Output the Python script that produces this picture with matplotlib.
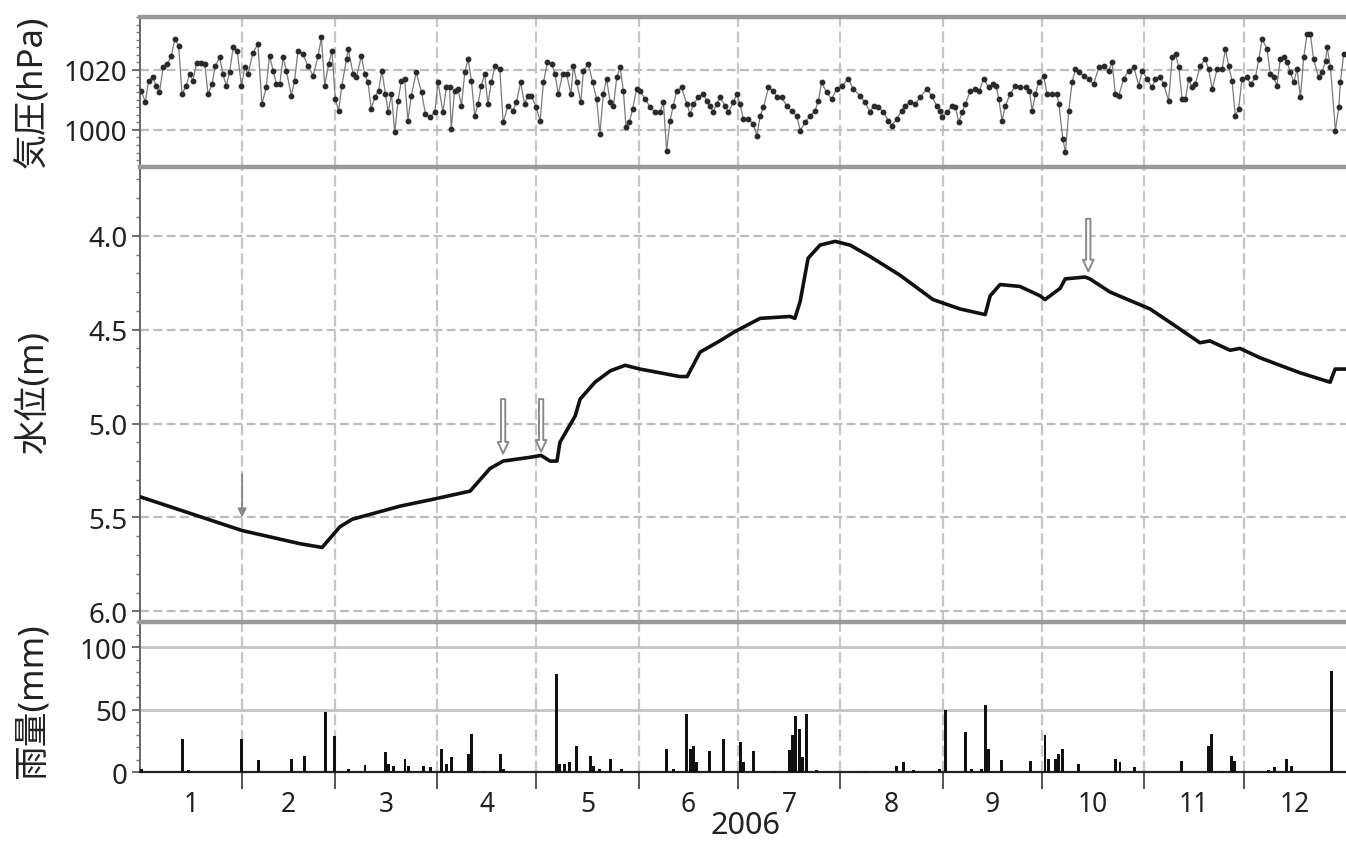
import matplotlib
matplotlib.use("Agg")
import matplotlib.pyplot as plt
from matplotlib.ticker import MultipleLocator, FixedLocator, NullFormatter

plt.rcParams['font.family'] = ['Noto Sans', 'Noto Sans CJK JP']

# ---------------------------------------------------------------- data
year_label = "2006"
month_labels = ["1", "2", "3", "4", "5", "6", "7", "8", "9", "10", "11", "12"]
month_start = [0, 31, 59, 90, 120, 151, 181, 212, 243, 273, 304, 334, 365]

# daily sea-level pressure (day of year, hPa)
pressure_day = [
    0.4, 1.6, 2.6, 3.9, 4.9, 5.9, 7.0, 8.3, 9.5, 10.5, 11.7, 12.7, 14.0, 15.0, 16.0,
    17.1, 18.6, 19.6, 20.6, 21.8, 22.8, 24.1, 25.1, 26.1, 27.1, 28.2, 29.4, 30.7,
    31.7, 32.7, 34.2, 35.7, 36.9, 38.2, 39.2, 40.3, 41.3, 42.3, 43.3, 44.3, 45.8,
    46.8, 47.8, 49.3, 50.8, 52.4, 53.9, 54.9, 55.9, 57.1, 58.1, 59.1, 60.1, 61.1,
    62.5, 63.0, 64.5, 65.5, 67.0, 68.0, 69.0, 70.0, 71.0, 72.2, 73.2, 74.3, 75.1,
    76.1, 77.1, 78.1, 79.1, 80.1, 81.1, 82.1, 83.6, 85.2, 86.4, 87.7, 89.2, 90.2,
    91.7, 92.7, 93.7, 94.2, 95.2, 96.2, 97.3, 98.3, 99.3, 100.3, 101.3, 102.3,
    103.3, 104.3, 105.3, 106.3, 107.5, 108.9, 109.9, 111.4, 112.9, 113.9, 115.2,
    116.4, 117.4, 118.4, 119.9, 121.1, 122.1, 123.3, 124.6, 125.6, 126.6, 127.9,
    129.1, 130.4, 131.2, 132.2, 133.4, 134.2, 135.7, 137.0, 138.2, 139.2, 140.2,
    141.2, 142.3, 143.3, 144.3, 145.3, 146.3, 147.1, 148.1, 149.1, 150.3, 151.3,
    152.9, 154.4, 155.9, 157.4, 158.4, 159.4, 160.4, 161.4, 162.4, 163.9, 165.5,
    166.5, 167.5, 169.0, 170.5, 171.5, 172.5, 173.5, 174.5, 175.5, 177.1, 178.1,
    179.6, 180.6, 181.6, 182.6, 184.1, 185.6, 186.7, 187.7, 188.7, 190.2, 191.7,
    192.9, 194.2, 195.7, 197.2, 198.8, 199.8, 201.3, 202.8, 204.3, 205.3, 206.3,
    207.8, 209.3, 210.9, 212.4, 214.4, 215.9, 217.9, 219.4, 221.0, 222.0, 223.5,
    225.0, 226.5, 227.5, 229.0, 230.5, 231.5, 233.1, 234.6, 236.1, 238.1, 239.6,
    241.1, 242.1, 242.7, 244.3, 245.8, 246.8, 247.8, 248.8, 249.8, 251.3, 252.8,
    254.0, 255.3, 256.9, 258.1, 259.1, 259.9, 260.9, 261.9, 263.4, 264.9, 266.4,
    268.0, 269.2, 270.0, 271.0, 272.0, 273.5, 274.5, 276.0, 277.5, 278.1, 279.3,
    280.1, 281.1, 282.1, 283.1, 284.1, 285.6, 287.1, 288.6, 290.2, 291.7, 293.2,
    294.2, 295.2, 296.2, 297.7, 299.2, 300.8, 302.3, 303.3, 304.8, 306.3, 307.3,
    308.8, 309.8, 311.3, 312.4, 313.4, 314.4, 315.4, 316.4, 317.4, 318.4, 319.4,
    320.9, 322.4, 323.4, 324.5, 326.0, 327.5, 328.5, 329.5, 330.5, 331.5, 332.5,
    333.5, 335.0, 336.1, 337.6, 338.6, 339.6, 341.1, 342.1, 343.1, 344.1, 345.1,
    346.1, 347.2, 348.2, 349.2, 350.2, 351.2, 352.2, 353.2, 354.2, 355.2, 356.7,
    357.8, 358.8, 359.3, 360.3, 361.8, 362.8, 363.3, 364.3,
]
pressure_hpa = [
    1013.0, 1009.2, 1016.4, 1017.5, 1014.7, 1012.5, 1020.8, 1021.9, 1024.6, 1030.2,
    1028.0, 1011.9, 1014.7, 1018.6, 1016.4, 1022.1, 1022.1, 1021.9, 1011.9, 1015.2,
    1021.3, 1024.1, 1018.6, 1014.7, 1019.1, 1027.4, 1026.3, 1014.7, 1020.8, 1018.6,
    1025.7, 1028.5, 1008.6, 1014.1, 1024.6, 1019.7, 1015.2, 1015.2, 1024.1, 1019.7,
    1011.4, 1016.4, 1026.3, 1025.2, 1021.3, 1018.0, 1024.6, 1030.7, 1014.7, 1021.9,
    1026.3, 1010.3, 1006.4, 1014.7, 1023.5, 1026.9, 1018.6, 1017.5, 1024.6, 1018.6,
    1015.8, 1007.0, 1010.8, 1013.0, 1019.7, 1011.9, 1005.9, 1011.9, 999.2, 1009.7,
    1016.4, 1016.9, 1003.1, 1011.4, 1019.1, 1012.5, 1005.3, 1004.2, 1005.9, 1015.8,
    1005.9, 1014.1, 1014.1, 1000.3, 1013.0, 1013.6, 1008.1, 1019.1, 1023.5, 1016.4,
    1004.7, 1008.6, 1014.7, 1018.6, 1008.6, 1015.8, 1021.3, 1020.2, 1002.5, 1008.1,
    1006.4, 1009.2, 1015.8, 1008.6, 1011.4, 1011.4, 1007.5, 1003.1, 1015.8, 1022.4,
    1021.9, 1018.6, 1011.9, 1018.6, 1018.6, 1011.9, 1021.3, 1015.8, 1009.2, 1019.7,
    1021.9, 1015.8, 1010.3, 998.7, 1011.9, 1016.9, 1009.2, 1008.1, 1017.5, 1020.8,
    1013.0, 1000.9, 1002.5, 1006.9, 1013.6, 1013.0, 1010.3, 1007.5, 1005.9, 1005.9,
    1009.2, 993.1, 1003.1, 1008.1, 1013.0, 1014.1, 1008.6, 1005.3, 1008.6, 1010.8,
    1011.9, 1009.7, 1008.1, 1005.9, 1008.6, 1010.8, 1008.1, 1005.9, 1009.2, 1011.9,
    1008.6, 1003.6, 1003.6, 1002.0, 998.1, 1004.7, 1007.5, 1014.1, 1013.0, 1010.8,
    1010.8, 1008.1, 1006.4, 1004.7, 999.8, 1002.5, 1004.7, 1006.4, 1009.7, 1015.8,
    1012.5, 1010.3, 1013.6, 1014.7, 1016.9, 1013.6, 1011.4, 1009.2, 1005.9, 1008.1,
    1007.5, 1005.9, 1003.1, 1001.4, 1003.6, 1006.4, 1008.1, 1009.2, 1008.6, 1010.8,
    1013.6, 1011.4, 1008.1, 1006.4, 1004.2, 1005.9, 1008.1, 1007.5, 1002.5, 1005.9,
    1008.6, 1013.0, 1013.6, 1013.0, 1016.9, 1014.1, 1015.2, 1014.7, 1010.3, 1003.1,
    1008.1, 1011.9, 1014.7, 1014.1, 1014.1, 1013.0, 1006.4, 1011.9, 1015.8, 1018.0,
    1011.9, 1011.9, 1011.9, 1008.6, 997.0, 992.6, 1006.4, 1015.8, 1020.2, 1019.1,
    1018.0, 1016.9, 1015.2, 1020.8, 1021.3, 1019.7, 1022.4, 1011.9, 1011.4, 1016.9,
    1019.7, 1020.8, 1014.7, 1019.7, 1016.9, 1014.1, 1016.9, 1017.5, 1015.2, 1009.7,
    1024.1, 1025.2, 1020.8, 1010.3, 1010.3, 1016.9, 1014.1, 1015.2, 1021.3, 1023.5,
    1020.2, 1013.6, 1020.2, 1020.2, 1026.9, 1021.3, 1016.4, 1004.7, 1006.9, 1016.9,
    1017.5, 1015.2, 1017.5, 1023.5, 1030.2, 1026.9, 1018.6, 1017.5, 1014.7, 1023.5,
    1024.1, 1022.4, 1019.1, 1015.8, 1020.2, 1010.8, 1024.1, 1031.8, 1031.8, 1023.5,
    1017.5, 1019.1, 1023.0, 1027.4, 1020.8, 999.8, 1007.5, 1015.8, 1025.2,
]

# groundwater level below surface (day of year, m)
level_day = [
    0.0, 30.9, 48.4, 55.1, 60.5, 64.2, 78.7, 89.6, 99.9, 102.9, 105.9, 109.9, 118.0,
    121.4, 124.1, 126.2, 127.1, 131.7, 133.2, 137.7, 142.3, 146.8, 151.3, 157.4,
    163.4, 165.6, 169.5, 175.5, 180.1, 187.7, 196.7, 198.2, 199.8, 202.2, 205.8,
    210.4, 214.9, 220.9, 230.0, 240.0, 248.2, 255.8, 257.3, 260.3, 266.3, 272.4,
    273.9, 278.5, 280.0, 286.0, 287.5, 293.6, 305.7, 313.3, 320.8, 323.8, 329.9,
    332.9, 339.0, 345.0, 351.1, 360.2, 361.7, 365.0,
]
level_m = [
    5.39, 5.57, 5.64, 5.66, 5.55, 5.51, 5.44, 5.40, 5.36, 5.30, 5.24, 5.20, 5.18,
    5.17, 5.20, 5.20, 5.10, 4.96, 4.87, 4.78, 4.72, 4.69, 4.71, 4.73, 4.75, 4.75,
    4.62, 4.56, 4.51, 4.44, 4.43, 4.44, 4.35, 4.12, 4.05, 4.03, 4.05, 4.11, 4.21,
    4.34, 4.39, 4.42, 4.32, 4.26, 4.27, 4.32, 4.34, 4.28, 4.23, 4.22, 4.23, 4.30,
    4.39, 4.48, 4.57, 4.56, 4.61, 4.60, 4.65, 4.69, 4.73, 4.78, 4.71, 4.71,
]

# daily precipitation (day of year, mm)
rain_day = [
    0.5, 12.9, 14.8, 30.8, 35.8, 45.9, 49.9, 56.0, 59.0, 63.0, 68.1, 74.2, 75.1,
    76.6, 80.2, 81.2, 85.7, 87.8, 91.3, 92.8, 94.3, 99.4, 100.4, 104.4, 109.0,
    110.0, 126.1, 127.1, 128.6, 130.1, 132.2, 136.2, 137.2, 139.2, 142.5, 145.8,
    159.4, 161.4, 165.5, 166.5, 167.5, 168.5, 172.5, 176.6, 181.6, 182.6, 185.6,
    191.7, 196.5, 197.5, 198.5, 199.5, 200.5, 201.8, 204.8, 219.4, 229.0, 231.0,
    234.1, 242.1, 243.8, 249.7, 251.7, 254.7, 256.0, 256.9, 260.8, 269.4, 273.9,
    274.9, 277.0, 278.0, 279.2, 284.0, 295.1, 296.6, 301.1, 315.3, 323.3, 324.3,
    327.4, 330.4, 331.4, 341.5, 343.5, 347.1, 348.6, 360.7,
]
rain_mm = [
    3, 27, 2, 27, 10, 11, 13, 48, 29, 3, 6, 16, 7,
    5, 11, 5, 5, 4, 19, 7, 12, 15, 31, 1, 15,
    3, 79, 7, 7, 8, 21, 13, 5, 3, 11, 3,
    19, 3, 47, 19, 21, 8, 17, 27, 24, 8, 17,
    1, 18, 30, 45, 35, 12, 47, 2, 1, 5, 8,
    2, 3, 50, 32, 3, 3, 54, 19, 10, 9, 30,
    11, 11, 15, 19, 7, 11, 8, 4, 9, 21, 31,
    1, 13, 9, 2, 4, 11, 5, 81,
]

# marked events on the water-level record: (day, arrow tail, arrow head)
event_day = [30.9, 109.9, 121.4, 287.0]
event_from = [5.27, 4.87, 4.87, 3.91]
event_to = [5.50, 5.16, 5.15, 4.19]

# ---------------------------------------------------------------- layout
W, H = 1346, 845
fig = plt.figure(figsize=(W / 100, H / 100), dpi=100)
left = 140 / W


def frame(top_px, bottom_px):
    return [left, 1 - bottom_px / H, 1 - left, (bottom_px - top_px) / H]


ax_p = fig.add_axes(frame(18, 168))
ax_w = fig.add_axes(frame(168, 623))
ax_r = fig.add_axes(frame(623, 773.3))

grid_col = '#bdbdbd'
text_col = '#222222'
mid_month = [(a + b) / 2 for a, b in zip(month_start[:-1], month_start[1:])]

for ax in (ax_p, ax_w, ax_r):
    ax.set_xlim(month_start[0], month_start[-1])
    for d in month_start[1:-1]:
        ax.axvline(d, color='#c6c6c6', lw=1.6, ls=(0, (5, 2)), zorder=0)
    ax.spines['right'].set_visible(False)
    ax.spines['top'].set_color('#9a9a9a')
    ax.spines['top'].set_linewidth(3.2)
    ax.spines['left'].set_color('#666666')
    ax.spines['left'].set_linewidth(1.4)
    ax.tick_params(axis='y', which='major', direction='out', length=6, width=1.2,
                   color='#555555', labelsize=20, labelcolor=text_col, pad=3)
    ax.tick_params(axis='y', which='minor', direction='out', length=3, width=1.0,
                   color='#777777')

for ax in (ax_p, ax_w):
    ax.spines['bottom'].set_visible(False)
    ax.tick_params(axis='x', which='both', bottom=False, labelbottom=False)

# pressure
ax_p.set_ylim(987.7, 1037.5)
ax_p.yaxis.set_major_locator(FixedLocator([1000, 1020]))
ax_p.yaxis.set_minor_locator(MultipleLocator(2.5))
for v in (1000, 1020):
    ax_p.axhline(v, color=grid_col, lw=1.6, ls=(0, (4, 2)), zorder=0)
ax_p.plot(pressure_day, pressure_hpa, color='#7a7a7a', lw=0.9, zorder=2)
ax_p.plot(pressure_day, pressure_hpa, ls='none', marker='o', ms=3.2,
          mfc='#2a2a2a', mec='#2a2a2a', zorder=3)

# water level (depth, axis inverted)
ax_w.set_ylim(6.057, 3.634)
ax_w.yaxis.set_major_locator(FixedLocator([4.0, 4.5, 5.0, 5.5, 6.0]))
ax_w.yaxis.set_major_formatter(plt.FuncFormatter(lambda v, p: f"{v:.1f}"))
ax_w.yaxis.set_minor_locator(MultipleLocator(0.1))
for v in (4.0, 4.5, 5.0, 5.5, 6.0):
    ax_w.axhline(v, color=grid_col, lw=1.6, ls=(0, (4, 2)), zorder=0)
ax_w.plot(level_day, level_m, color='#111111', lw=2.6,
          solid_joinstyle='round', solid_capstyle='round', zorder=3)

for i, (d, a, b) in enumerate(zip(event_day, event_from, event_to)):
    if i == 0:
        props = dict(arrowstyle='-|>,head_width=0.25,head_length=0.5',
                     color='#888888', lw=1.4, shrinkA=0, shrinkB=0,
                     mutation_scale=10)
    else:
        props = dict(arrowstyle='simple,head_width=0.55,head_length=0.6,tail_width=0.22',
                     fc='white', ec='#8a8a8a', lw=1.4, shrinkA=0, shrinkB=0,
                     mutation_scale=14)
    ax_w.annotate('', xy=(d, b), xytext=(d, a), arrowprops=props, zorder=4)

# precipitation
ax_r.set_ylim(0, 120.3)
ax_r.yaxis.set_major_locator(FixedLocator([0, 50, 100]))
ax_r.yaxis.set_minor_locator(MultipleLocator(10))
for v in (50, 100):
    ax_r.axhline(v, color='#c4c4c4', lw=2.0, zorder=0)
ax_r.bar(rain_day, rain_mm, width=0.9, color='#111111', zorder=3)
ax_r.spines['bottom'].set_color('#222222')
ax_r.spines['bottom'].set_linewidth(1.6)

ax_r.set_xticks(month_start[1:-1])
ax_r.xaxis.set_major_formatter(NullFormatter())
ax_r.set_xticks(mid_month, minor=True)
ax_r.set_xticklabels(month_labels, minor=True)
ax_r.tick_params(axis='x', which='major', direction='out', length=12, width=1.4,
                 color='#555555')
ax_r.tick_params(axis='x', which='minor', length=0, pad=13, labelsize=19,
                 labelcolor=text_col)

fig.text(745 / W, 1 - 826 / H, year_label, ha='center', va='center',
         fontsize=22, color=text_col)

for label, y_px in (("気圧(hPa)", 92), ("水位(m)", 393), ("雨量(mm)", 701)):
    fig.text(33 / W, 1 - y_px / H, label, rotation=90, ha='center', va='center',
             fontsize=25, color=text_col)

fig.savefig('out.png', dpi=100, facecolor='white')
